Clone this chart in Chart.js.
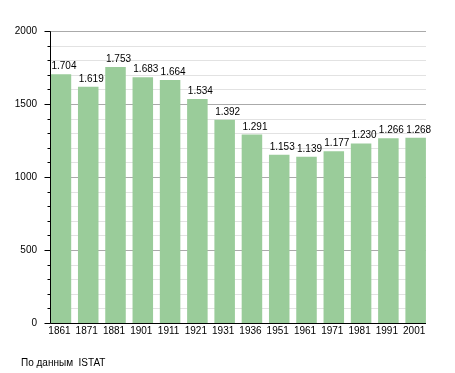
<!DOCTYPE html>
<html>
<head>
<meta charset="utf-8">
<script src="https://cdn.jsdelivr.net/npm/chart.js@4/dist/chart.umd.min.js"></script>
<style>
html,body{margin:0;padding:0;background:#fff;}
canvas{display:block;}
</style>
</head>
<body>
<canvas id="c" width="455" height="373"></canvas>
<script>
const years = ["1861","1871","1881","1901","1911","1921","1931","1936","1951","1961","1971","1981","1991","2001"];
const population = [1704,1619,1753,1683,1664,1534,1392,1291,1153,1139,1177,1230,1266,1268];
const yTicks = [0,500,1000,1500,2000];
const sourceNote = "По данным  ISTAT";

const FONT = '10px "Liberation Sans", Arial, sans-serif';
function fmt(v){ return String(v).replace(/\B(?=(\d{3})+(?!\d))/g, "."); }

const drawPlugin = {
  id: 'custom',
  beforeDatasetsDraw(chart){
    const ctx = chart.ctx, y = chart.scales.y;
    const L = 50, R = 426;
    ctx.save();
    for (let v = 100; v <= 2000; v += 100){
      const py = Math.round(y.getPixelForValue(v)) + 0.5;
      ctx.strokeStyle = (v % 500 === 0) ? '#aaaaaa' : '#e2e2e2';
      ctx.lineWidth = 1;
      ctx.beginPath(); ctx.moveTo(L, py); ctx.lineTo(R, py); ctx.stroke();
    }
    ctx.restore();
  },
  afterDatasetsDraw(chart){
    const ctx = chart.ctx, y = chart.scales.y, x = chart.scales.x;
    const L = 50, R = 426;
    const y0 = Math.round(y.getPixelForValue(0)) + 0.5;
    const yTop = Math.round(y.getPixelForValue(2000)) + 0.5;
    ctx.save();
    ctx.strokeStyle = '#000'; ctx.lineWidth = 1;
    // axes
    ctx.beginPath(); ctx.moveTo(L + 0.5, yTop); ctx.lineTo(L + 0.5, y0); ctx.lineTo(R, y0); ctx.stroke();
    // tick marks
    for (let v = 0; v <= 2000; v += 100){
      const py = Math.round(y.getPixelForValue(v)) + 0.5;
      const len = (v % 500 === 0) ? 6 : 3;
      ctx.beginPath(); ctx.moveTo(L + 0.5 - len, py); ctx.lineTo(L + 0.5, py); ctx.stroke();
    }
    ctx.fillStyle = '#000';
    ctx.font = FONT;
    // y labels
    ctx.textAlign = 'right'; ctx.textBaseline = 'middle';
    yTicks.forEach(v => ctx.fillText(String(v), 37, y.getPixelForValue(v)));
    // x labels
    ctx.textAlign = 'center'; ctx.textBaseline = 'top';
    years.forEach((lab, i) => ctx.fillText(lab, x.getPixelForValue(i) - 1.5, 326));
    // value labels
    ctx.textBaseline = 'alphabetic';
    const meta = chart.getDatasetMeta(0);
    meta.data.forEach((bar, i) => {
      ctx.fillText(fmt(population[i]), bar.x + 3, bar.y - 5);
    });
    // source note
    ctx.textAlign = 'left';
    ctx.fillText(sourceNote, 21, 365.5);
    ctx.restore();
  }
};

new Chart(document.getElementById('c'), {
  type: 'bar',
  data: {
    labels: years,
    datasets: [{
      data: population,
      backgroundColor: '#9acc9a',
      borderWidth: 0,
      categoryPercentage: 1,
      barPercentage: 0.752
    }]
  },
  options: {
    responsive: false,
    animation: false,
    devicePixelRatio: 1,
    layout: { padding: { left: 47.3, right: 25.7, top: 31, bottom: 50 } },
    plugins: { legend: { display: false }, tooltip: { enabled: false } },
    scales: {
      x: { display: false, offset: true },
      y: { display: false, min: 0, max: 2000 }
    }
  },
  plugins: [drawPlugin]
});
</script>
</body>
</html>
